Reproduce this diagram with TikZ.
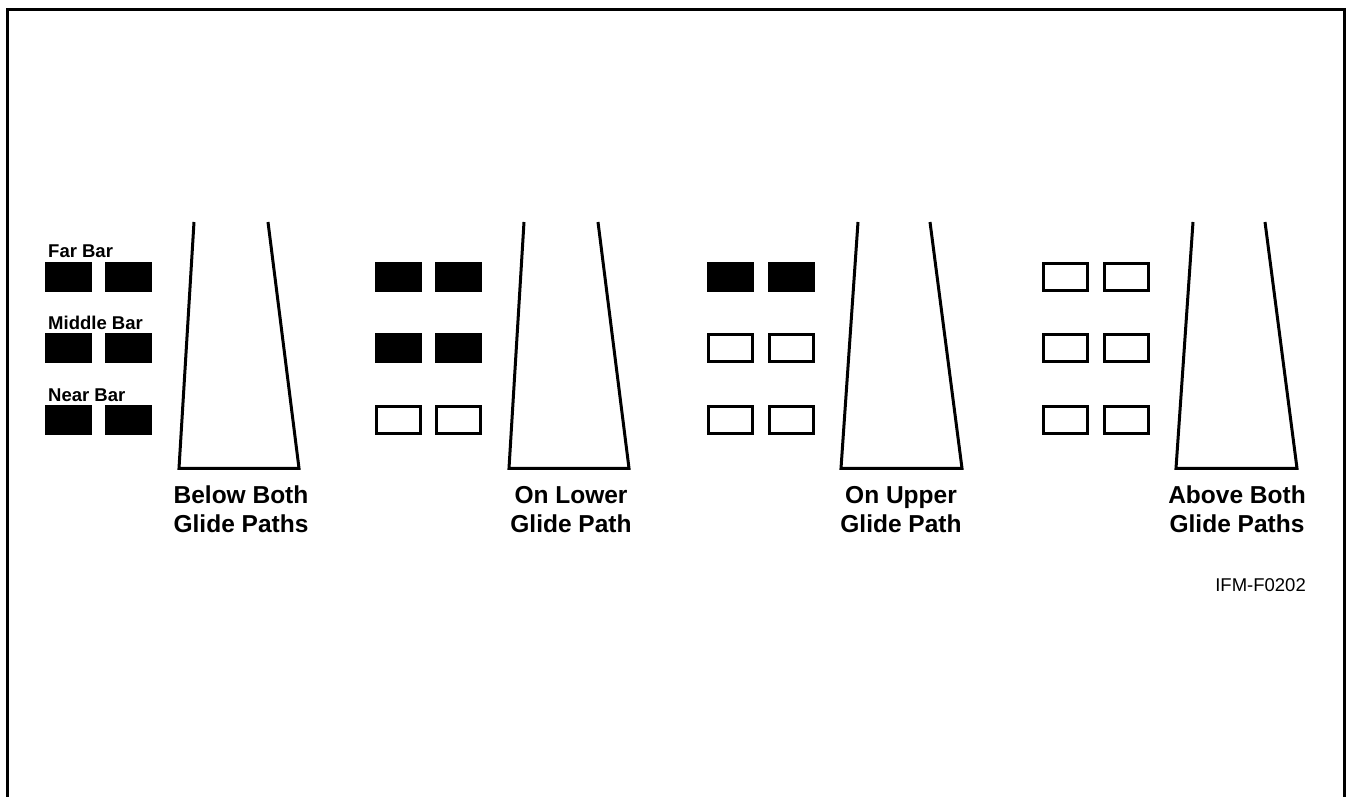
\documentclass[tikz,border=0pt]{standalone}
\usepackage{fontspec}
\setmainfont{Liberation Sans}
\begin{document}
\begin{tikzpicture}[x=1pt,y=-1pt,
  bar/.style={rectangle,draw=black,line width=3pt,minimum width=44pt,minimum height=27pt,inner sep=0pt},
  lit/.style={bar,fill=black},
  unlit/.style={bar,fill=white},
  barlabel/.style={anchor=base west,inner sep=0pt,font=\bfseries\fontsize{18.5}{18.5}\selectfont},
  caption/.style={anchor=north,align=center,inner sep=0pt,font=\bfseries\fontsize{24.5}{29}\selectfont},
  beam/.style={line width=3pt}]
  \useasboundingbox (0,0) rectangle (1347,797);

  % Frame
  \draw[line width=3pt] (7.5,797) -- (7.5,10) -- (1344,10) -- (1344,797);

  % Bars
  \foreach \p/\xa/\xb/\nlit in {1/68.3/128.7/3, 2/398.3/458.7/2, 3/730.7/791.7/1, 4/1065.7/1126.7/0}
    \foreach \r/\y in {1/277, 2/348.3, 3/420} {
      \ifnum\r>\nlit \def\st{unlit}\else\def\st{lit}\fi
      \node[\st] (b\p\r a) at (\xa,\y) {};
      \node[\st] (b\p\r b) at (\xb,\y) {};
    }

  % Bar names
  \node[barlabel] (far) at (48,257) {Far Bar};
  \node[barlabel] (middle) at (48,329) {Middle Bar};
  \node[barlabel] (near) at (48,401) {Near Bar};

  % Glide paths
  \foreach \p/\tl/\tr/\bl/\br in {1/194/268/179/299, 2/524/598/509/629, 3/858/930/841/962, 4/1193/1265/1176/1297} {
    \coordinate (t\p l) at (\tl,222);
    \coordinate (t\p r) at (\tr,222);
    \coordinate (f\p l) at (\bl,468.3);
    \coordinate (f\p r) at (\br,468.3);
    \draw[beam] (t\p l) -- (f\p l) -- (f\p r) -- (t\p r);
  }

  % Captions
  \node[caption] (c1) at (241,486) {Below Both\\Glide Paths};
  \node[caption] (c2) at (571,486) {On Lower\\Glide Path};
  \node[caption] (c3) at (901,486) {On Upper\\Glide Path};
  \node[caption] (c4) at (1237,486) {Above Both\\Glide Paths};

  \node[anchor=base east,inner sep=0pt,font=\fontsize{18.5}{18.5}\selectfont] (id) at (1306,591) {IFM-F0202};
\end{tikzpicture}
\end{document}
